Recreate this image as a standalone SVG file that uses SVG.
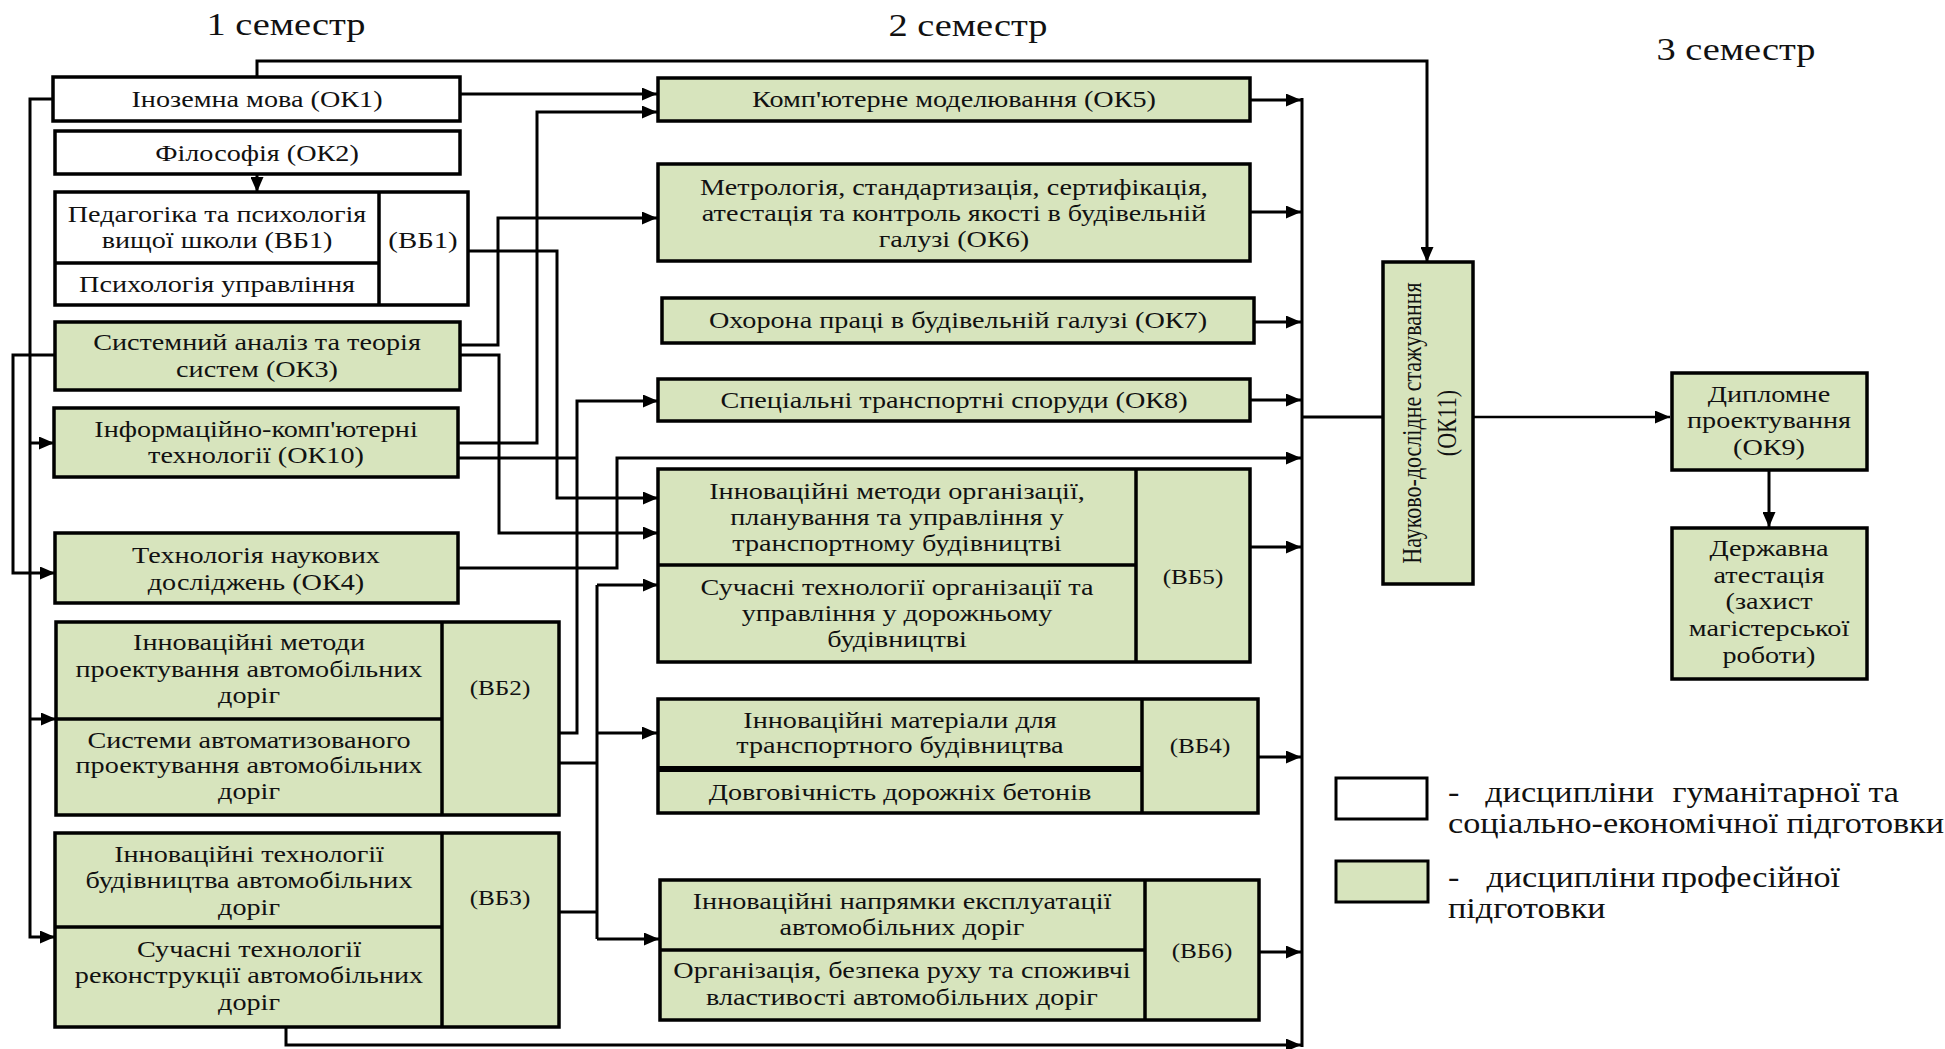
<svg xmlns="http://www.w3.org/2000/svg" width="1945" height="1049" viewBox="0 0 1945 1049">
<style>
.box{stroke:#000;stroke-width:3.5}
.g{fill:#d7e4bd}
.w{fill:#fff}
.div{stroke:#000;stroke-width:3.5;fill:none}
.ln{fill:none;stroke:#000;stroke-width:3;stroke-linejoin:miter}
.t{font-family:"Liberation Serif","Times New Roman",serif;font-size:23.5px;fill:#111;text-anchor:middle}
.vb{font-size:21px}
.vb1{font-size:24px}
.title{font-size:32px}
.leg{font-size:28.5px;text-anchor:start}
.rot{font-size:22px}
</style>
<defs>
<marker id="ah" markerUnits="userSpaceOnUse" markerWidth="16" markerHeight="13" refX="15" refY="6.5" orient="auto">
<path d="M0,0 L15,6.5 L0,13 z" fill="#000"/>
</marker>
</defs>
<rect width="1945" height="1049" fill="#fff"/>

<g id="titles">
<text class="t title" transform="matrix(1.2 0 0 1 286 0)" x="0" y="35">1 семестр</text>
<text class="t title" transform="matrix(1.2 0 0 1 968 0)" x="0" y="36">2 семестр</text>
<text class="t title" transform="matrix(1.2 0 0 1 1736 0)" x="0" y="60">3 семестр</text>
</g>

<g id="n_ok1">
<rect class="box w" x="53" y="77" width="407" height="44"/>
<text class="t" transform="matrix(1.2 0 0 1 257 0)" x="0" y="107">Іноземна мова (ОК1)</text>
</g>
<g id="n_ok2">
<rect class="box w" x="55" y="131" width="405" height="43"/>
<text class="t" transform="matrix(1.2 0 0 1 257 0)" x="0" y="161">Філософія (ОК2)</text>
</g>
<g id="n_vb1">
<rect class="box w" x="55" y="192" width="413" height="113"/>
<path class="div" d="M379,192 V305 M55,263 H379"/>
<text class="t" transform="matrix(1.2 0 0 1 217 0)"><tspan x="0" y="222">Педагогіка та психологія</tspan><tspan x="0" y="248">вищої школи (ВБ1)</tspan><tspan x="0" y="292">Психологія управління</tspan></text>
<text class="t vb1" transform="matrix(1.2 0 0 1 423 0)" x="0" y="248">(ВБ1)</text>
</g>
<g id="n_ok3">
<rect class="box g" x="55" y="322" width="405" height="68"/>
<text class="t" transform="matrix(1.2 0 0 1 257 0)"><tspan x="0" y="350">Системний аналіз та теорія</tspan><tspan x="0" y="377">систем (ОК3)</tspan></text>
</g>
<g id="n_ok10">
<rect class="box g" x="54" y="408" width="404" height="69"/>
<text class="t" transform="matrix(1.2 0 0 1 256 0)"><tspan x="0" y="437">Інформаційно-комп'ютерні</tspan><tspan x="0" y="463">технології (ОК10)</tspan></text>
</g>
<g id="n_ok4">
<rect class="box g" x="55" y="533" width="403" height="70"/>
<text class="t" transform="matrix(1.2 0 0 1 256 0)"><tspan x="0" y="563">Технологія наукових</tspan><tspan x="0" y="590">досліджень (ОК4)</tspan></text>
</g>
<g id="n_vb2">
<rect class="box g" x="56" y="622" width="503" height="193"/>
<path class="div" d="M442,622 V815 M56,719 H442"/>
<text class="t" transform="matrix(1.2 0 0 1 249 0)"><tspan x="0" y="650">Інноваційні методи</tspan><tspan x="0" y="677">проектування автомобільних</tspan><tspan x="0" y="703">доріг</tspan><tspan x="0" y="748">Системи автоматизованого</tspan><tspan x="0" y="773">проектування автомобільних</tspan><tspan x="0" y="799">доріг</tspan></text>
<text class="t vb" transform="matrix(1.2 0 0 1 500 0)" x="0" y="695">(ВБ2)</text>
</g>
<g id="n_vb3">
<rect class="box g" x="55" y="833" width="504" height="194"/>
<path class="div" d="M442,833 V1027 M55,927 H442"/>
<text class="t" transform="matrix(1.2 0 0 1 249 0)"><tspan x="0" y="862">Інноваційні технології</tspan><tspan x="0" y="888">будівництва автомобільних</tspan><tspan x="0" y="915">доріг</tspan><tspan x="0" y="957">Сучасні технології</tspan><tspan x="0" y="983">реконструкції автомобільних</tspan><tspan x="0" y="1010">доріг</tspan></text>
<text class="t vb" transform="matrix(1.2 0 0 1 500 0)" x="0" y="905">(ВБ3)</text>
</g>

<g id="n_ok5">
<rect class="box g" x="658" y="78" width="592" height="43"/>
<text class="t" transform="matrix(1.2 0 0 1 954 0)" x="0" y="107">Комп'ютерне моделювання (ОК5)</text>
</g>
<g id="n_ok6">
<rect class="box g" x="658" y="164" width="592" height="97"/>
<text class="t" transform="matrix(1.2 0 0 1 954 0)"><tspan x="0" y="195">Метрологія, стандартизація, сертифікація,</tspan><tspan x="0" y="221">атестація та контроль якості в будівельній</tspan><tspan x="0" y="247">галузі (ОК6)</tspan></text>
</g>
<g id="n_ok7">
<rect class="box g" x="662" y="298" width="592" height="45"/>
<text class="t" transform="matrix(1.2 0 0 1 958 0)" x="0" y="328">Охорона праці в будівельній галузі (ОК7)</text>
</g>
<g id="n_ok8">
<rect class="box g" x="658" y="379" width="592" height="42"/>
<text class="t" transform="matrix(1.2 0 0 1 954 0)" x="0" y="408">Спеціальні транспортні споруди (ОК8)</text>
</g>
<g id="n_vb5">
<rect class="box g" x="658" y="469" width="592" height="193"/>
<path class="div" d="M1136,469 V662 M658,565 H1136"/>
<text class="t" transform="matrix(1.2 0 0 1 897 0)"><tspan x="0" y="499">Інноваційні методи організації,</tspan><tspan x="0" y="525">планування та управління у</tspan><tspan x="0" y="551">транспортному будівництві</tspan><tspan x="0" y="595">Сучасні технології організації та</tspan><tspan x="0" y="621">управління у дорожньому</tspan><tspan x="0" y="647">будівництві</tspan></text>
<text class="t vb" transform="matrix(1.2 0 0 1 1193 0)" x="0" y="584">(ВБ5)</text>
</g>
<g id="n_vb4">
<rect class="box g" x="658" y="699" width="600" height="114"/>
<path class="div" d="M1142,699 V813"/>
<path d="M658,769 H1142" stroke="#000" stroke-width="6"/>
<text class="t" transform="matrix(1.2 0 0 1 900 0)"><tspan x="0" y="728">Інноваційні матеріали для</tspan><tspan x="0" y="753">транспортного будівництва</tspan><tspan x="0" y="800">Довговічність дорожніх бетонів</tspan></text>
<text class="t vb" transform="matrix(1.2 0 0 1 1200 0)" x="0" y="753">(ВБ4)</text>
</g>
<g id="n_vb6">
<rect class="box g" x="660" y="880" width="599" height="140"/>
<path class="div" d="M1145,880 V1020 M660,950 H1145"/>
<text class="t" transform="matrix(1.2 0 0 1 902 0)"><tspan x="0" y="909">Інноваційні напрямки експлуатації</tspan><tspan x="0" y="935">автомобільних доріг</tspan><tspan x="0" y="978">Організація, безпека руху та споживчі</tspan><tspan x="0" y="1005">властивості автомобільних доріг</tspan></text>
<text class="t vb" transform="matrix(1.2 0 0 1 1202 0)" x="0" y="958">(ВБ6)</text>
</g>

<g id="n_ok11">
<rect class="box g" x="1383" y="262" width="90" height="322"/>
<text class="t rot" transform="translate(1428 423) rotate(-90) scale(1 1.2)"><tspan x="0" y="-5.8">Науково-дослідне стажування</tspan><tspan x="0" y="23.3">(ОК11)</tspan></text>
</g>
<g id="n_ok9">
<rect class="box g" x="1672" y="373" width="195" height="97"/>
<text class="t" transform="matrix(1.2 0 0 1 1769 0)"><tspan x="0" y="402">Дипломне</tspan><tspan x="0" y="428">проектування</tspan><tspan x="0" y="455">(ОК9)</tspan></text>
</g>
<g id="n_attest">
<rect class="box g" x="1672" y="528" width="195" height="151"/>
<text class="t" transform="matrix(1.2 0 0 1 1769 0)"><tspan x="0" y="556">Державна</tspan><tspan x="0" y="583">атестація</tspan><tspan x="0" y="609">(захист</tspan><tspan x="0" y="636">магістерської</tspan><tspan x="0" y="663">роботи)</tspan></text>
</g>

<g id="legend">
<rect x="1336" y="778" width="91" height="41" fill="#fff" stroke="#000" stroke-width="3"/>
<rect x="1336" y="861" width="92" height="41" fill="#d7e4bd" stroke="#000" stroke-width="3"/>
<text class="t leg" transform="matrix(1.2 0 0 1 1448 0)"><tspan x="0" y="802">-</tspan><tspan x="31" y="802">дисципліни</tspan><tspan x="187" y="802">гуманітарної та</tspan><tspan x="0" y="833">соціально-економічної</tspan><tspan x="282" y="833">підготовки</tspan></text>
<text class="t leg" transform="matrix(1.2 0 0 1 1448 0)"><tspan x="0" y="887">-</tspan><tspan x="32" y="887">дисципліни</tspan><tspan x="178" y="887">професійної</tspan><tspan x="0" y="918">підготовки</tspan></text>
</g>

<g id="connectors" class="ln">
<path d="M257,77 V61 H1427 V262" marker-end="url(#ah)"/>
<path d="M460,94 H657" marker-end="url(#ah)"/>
<path d="M458,443 H537 V112 H657" marker-end="url(#ah)"/>
<path d="M468,251 H557 V498 H658" marker-end="url(#ah)"/>
<path d="M460,345 H498 V218 H657" marker-end="url(#ah)"/>
<path d="M460,355 H499 V533 H658" marker-end="url(#ah)"/>
<path d="M458,458 H577"/>
<path d="M559,733 H577 V401 H658" marker-end="url(#ah)"/>
<path d="M458,568 H617 V458 H1301" marker-end="url(#ah)"/>
<path d="M559,763 H597"/>
<path d="M559,912 H597"/>
<path d="M597,585 V939"/>
<path d="M597,585 H658" marker-end="url(#ah)"/>
<path d="M597,733 H657" marker-end="url(#ah)"/>
<path d="M597,939 H659" marker-end="url(#ah)"/>
<path d="M286,1027 V1045 H1301" marker-end="url(#ah)"/>
<path d="M53,99 H30 V937 H55" marker-end="url(#ah)"/>
<path d="M30,443 H54" marker-end="url(#ah)"/>
<path d="M30,719 H56" marker-end="url(#ah)"/>
<path d="M55,355 H13 V573 H55" marker-end="url(#ah)"/>
<path d="M257,174 V192" marker-end="url(#ah)"/>
<path d="M1302,98 V1047"/>
<path d="M1250,100 H1301" marker-end="url(#ah)"/>
<path d="M1250,212 H1301" marker-end="url(#ah)"/>
<path d="M1254,322 H1301" marker-end="url(#ah)"/>
<path d="M1250,400 H1301" marker-end="url(#ah)"/>
<path d="M1250,547 H1301" marker-end="url(#ah)"/>
<path d="M1258,757 H1301" marker-end="url(#ah)"/>
<path d="M1259,952 H1301" marker-end="url(#ah)"/>
<path d="M1302,417 H1383"/>
<path d="M1473,417 H1670" stroke-width="2.5" marker-end="url(#ah)"/>
<path d="M1769,470 V527" marker-end="url(#ah)"/>
</g>
</svg>
